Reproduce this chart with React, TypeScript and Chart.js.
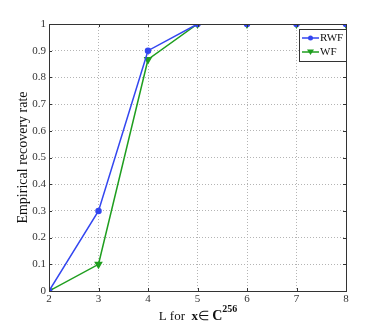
import React, { useEffect, useRef } from "react";
import { Chart, registerables } from "chart.js";
Chart.register(...registerables);

const xValues = [2, 3, 4, 5, 6, 7, 8];
const rwf = [0, 0.3, 0.9, 1, 1, 1, 1];
const wf = [0, 0.1, 0.867, 1, 1, 1, 1];
const seriesNames = ["RWF", "WF"];
const yTitle = "Empirical recovery rate";

const BLUE = "#3346f0";
const GREEN = "#1f9e1f";
const FONT = "'Liberation Serif', 'Times New Roman', serif";

const framePlugin = {
  id: "frame",
  afterDraw(chart: any) {
    const { ctx, chartArea: a, scales } = chart;
    ctx.save();
    ctx.strokeStyle = "#333";
    ctx.lineWidth = 1;
    ctx.strokeRect(a.left + 0.5, a.top + 0.5, a.right - a.left, a.bottom - a.top);
    ctx.beginPath();
    const xs = scales.x, ys = scales.y;
    xs.ticks.forEach((t: any) => {
      const px = Math.round(xs.getPixelForValue(t.value)) + 0.5;
      ctx.moveTo(px, a.bottom); ctx.lineTo(px, a.bottom - 3);
      ctx.moveTo(px, a.top); ctx.lineTo(px, a.top + 3);
    });
    ys.ticks.forEach((t: any) => {
      const py = Math.round(ys.getPixelForValue(t.value)) + 0.5;
      ctx.moveTo(a.left, py); ctx.lineTo(a.left + 3, py);
      ctx.moveTo(a.right, py); ctx.lineTo(a.right - 3, py);
    });
    ctx.stroke();

    ctx.fillStyle = "#111";
    ctx.textBaseline = "alphabetic";
    const baseY = 320;
    const parts = [
      { t: "L for  ", f: `13px ${FONT}`, dy: 0 },
      { t: "x", f: `bold 13px ${FONT}`, dy: 0 },
      { t: "\u2208 ", f: `13px ${FONT}`, dy: 0 },
      { t: "C", f: `bold 14px ${FONT}`, dy: 0 },
      { t: "256", f: `bold 10px ${FONT}`, dy: -8 },
    ];
    let w = 0;
    parts.forEach((p) => { ctx.font = p.f; w += ctx.measureText(p.t).width; });
    let x = 198 - w / 2;
    ctx.textAlign = "left";
    parts.forEach((p) => { ctx.font = p.f; ctx.fillText(p.t, x, baseY + p.dy); x += ctx.measureText(p.t).width; });

    const lx = 299, ly = 29, lw = 47, lh = 32;
    ctx.fillStyle = "#fff";
    ctx.fillRect(lx, ly, lw, lh);
    ctx.strokeStyle = "#333";
    ctx.lineWidth = 1;
    ctx.strokeRect(lx + 0.5, ly + 0.5, lw, lh);
    const cols = [BLUE, GREEN];
    seriesNames.forEach((n, i) => {
      const yy = ly + 9 + i * 14;
      ctx.strokeStyle = cols[i];
      ctx.lineWidth = 1.5;
      ctx.beginPath(); ctx.moveTo(lx + 3, yy); ctx.lineTo(lx + 20, yy); ctx.stroke();
      ctx.fillStyle = cols[i];
      ctx.beginPath();
      if (i === 0) { ctx.arc(lx + 11.5, yy, 2.5, 0, Math.PI * 2); }
      else { ctx.moveTo(lx + 8, yy - 2.5); ctx.lineTo(lx + 15, yy - 2.5); ctx.lineTo(lx + 11.5, yy + 3); ctx.closePath(); }
      ctx.fill();
      ctx.fillStyle = "#111";
      ctx.font = `11px ${FONT}`;
      ctx.textBaseline = "middle";
      ctx.fillText(n, lx + 21, yy + 0.5);
    });
    ctx.restore();
  },
};

export default function App() {
  const ref = useRef<HTMLCanvasElement>(null);
  useEffect(() => {
    document.body.style.margin = "0";
    const chart = new Chart(ref.current!, {
      type: "line",
      data: {
        datasets: [
          {
            label: seriesNames[0],
            data: xValues.map((x, i) => ({ x, y: rwf[i] })),
            borderColor: BLUE,
            backgroundColor: BLUE,
            borderWidth: 1.5,
            pointStyle: "circle",
            pointRadius: 2.5,
          },
          {
            label: seriesNames[1],
            data: xValues.map((x, i) => ({ x, y: wf[i] })),
            borderColor: GREEN,
            backgroundColor: GREEN,
            borderWidth: 1.5,
            pointStyle: "triangle",
            pointRotation: 180,
            pointRadius: 3.5,
          },
        ],
      },
      options: {
        animation: false,
        responsive: false,
        layout: { padding: { top: 24, right: 36, left: 0, bottom: 0 } },
        plugins: { legend: { display: false }, tooltip: { enabled: false } },
        scales: {
          x: {
            type: "linear",
            min: 2,
            max: 8,
            ticks: { stepSize: 1, color: "#333", font: { family: FONT, size: 11 }, padding: 2 },
            grid: { color: "#b4b4b4", drawTicks: false, tickLength: 0 } as any,
            border: { display: false, dash: [1, 2] },
            afterFit: (s: any) => { s.height = 36; },
          },
          y: {
            min: 0,
            max: 1,
            ticks: { stepSize: 0.1, color: "#333", font: { family: FONT, size: 11 }, padding: 3,
              callback: (v: any) => String(Math.round(Number(v) * 10) / 10) },
            grid: { color: "#b4b4b4", drawTicks: false, tickLength: 0 } as any,
            border: { display: false, dash: [1, 2] },
            title: { display: true, text: yTitle, color: "#111", font: { family: FONT, size: 14 }, padding: { top: 15, bottom: 0 } },
            afterFit: (s: any) => { s.width = 49; },
          },
        },
      },
      plugins: [framePlugin],
    });
    return () => chart.destroy();
  }, []);
  return <canvas ref={ref} width={382} height={327} style={{ display: "block" }} />;
}
